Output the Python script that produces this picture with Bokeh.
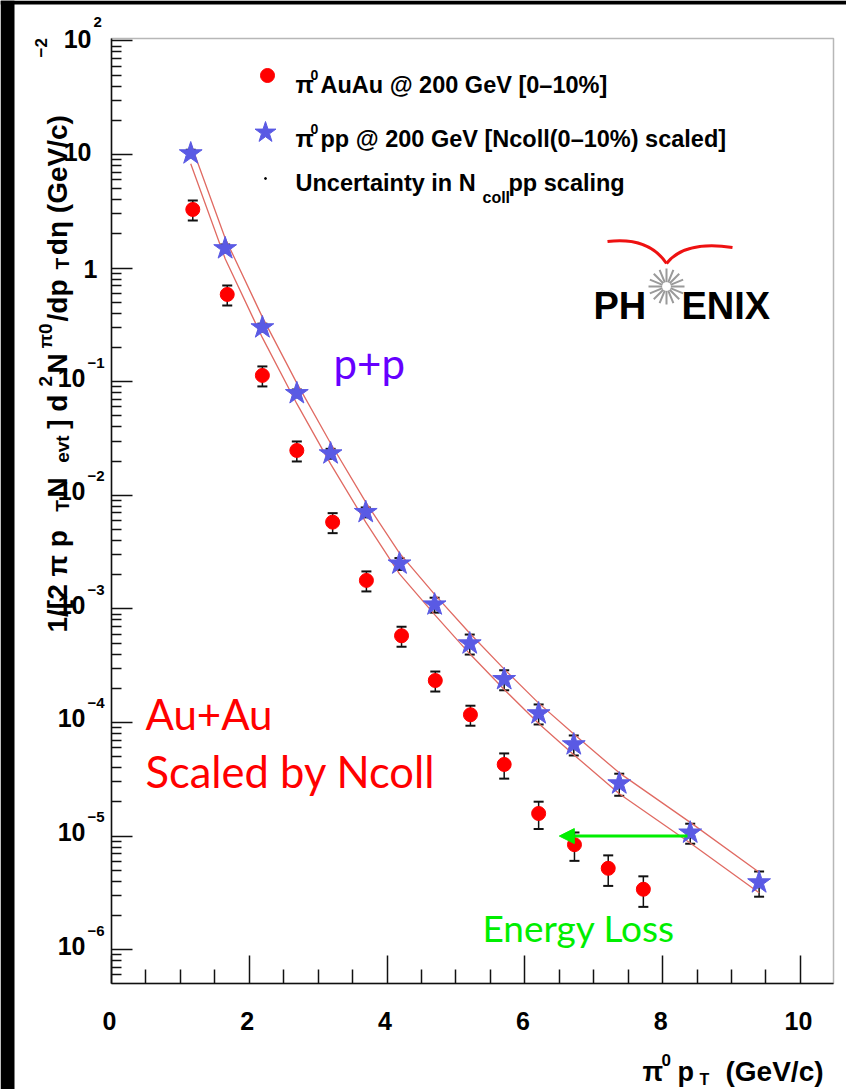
import math
from bokeh.plotting import figure
from bokeh.models import (ColumnDataSource, Range1d, FixedTicker, Whisker, TeeHead,
                          Label, Arrow, NormalHead, CustomJSTickFormatter, BoxAnnotation)
from bokeh.embed import file_html
from bokeh.resources import INLINE

# ---------------- data ----------------
auau_pt = [1.18, 1.68, 2.19, 2.69, 3.21, 3.70, 4.21, 4.70, 5.21, 5.70, 6.20, 6.72, 7.21, 7.72]
auau_yield = [3.28, 0.586, 0.1135, 0.0248, 5.8e-3, 1.78e-3, 5.8e-4, 2.34e-4, 1.17e-4,
              4.27e-5, 1.58e-5, 8.4e-6, 5.2e-6, 3.4e-6]
auau_relerr = [0.2, 0.2, 0.2, 0.2, 0.2, 0.2, 0.2, 0.2, 0.2, 0.25, 0.27, 0.28, 0.3, 0.3]

pp_pt = [1.15, 1.65, 2.19, 2.69, 3.18, 3.69, 4.18, 4.69, 5.20, 5.70, 6.20, 6.71, 7.37, 8.40, 9.40]
pp_yield = [10.2, 1.49, 0.30, 0.079, 0.0233, 0.0071, 0.0025, 0.00109, 4.95e-4, 2.4e-4,
            1.2e-4, 6.4e-5, 2.9e-5, 1.07e-5, 3.9e-6]
pp_relerr = [0.08, 0.08, 0.08, 0.08, 0.1, 0.1, 0.12, 0.15, 0.2, 0.2, 0.2, 0.2, 0.22, 0.2, 0.25]

# Ncoll scaling uncertainty band (upper / lower curves at the p+p pT points)
band_hi = [12.5, 1.83, 0.37, 0.097, 0.0287, 0.0087, 0.0031, 0.00134, 6.1e-4, 2.95e-4,
           1.48e-4, 7.9e-5, 3.6e-5, 1.32e-5, 4.8e-6]
band_lo = [8.3, 1.21, 0.244, 0.064, 0.0189, 0.0058, 0.00203, 8.9e-4, 4.02e-4, 1.95e-4,
           9.8e-5, 5.2e-5, 2.36e-5, 8.7e-6, 3.17e-6]

# energy-loss arrow (pT from -> to, at yield level)
eloss_from_pt, eloss_to_pt, eloss_level = 8.36, 6.50, 1.0e-5

x_major = [0, 2, 4, 6, 8, 10]
x_minor = [0.5, 1, 1.5, 2.5, 3, 3.5, 4.5, 5, 5.5, 6.5, 7, 7.5, 8.5, 9, 9.5]
y_decades = [1e2, 1e1, 1e0, 1e-1, 1e-2, 1e-3, 1e-4, 1e-5, 1e-6]
y_tick_base = ["10", "10", "1", "10", "10", "10", "10", "10", "10"]
y_tick_exp = ["2", "", "", "\u22121", "\u22122", "\u22123", "\u22124", "\u22125", "\u22126"]

# ---------------- frame calibration (reference page pixels) ----------------
PAGE_W, PAGE_H = 846, 1089
FRAME_L, FRAME_R, FRAME_T, FRAME_B = 111, 833, 38, 983
X_MIN, X_MAX = 0.0, 10.48
LOG_MIN, LOG_MAX = -6.298, 2.021
Y_LO, Y_HI = 10 ** LOG_MIN, 10 ** LOG_MAX


def X(px):
    return X_MIN + (px - FRAME_L) / (FRAME_R - FRAME_L) * (X_MAX - X_MIN)


def Y(py):
    return 10 ** (LOG_MAX - (py - FRAME_T) / (FRAME_B - FRAME_T) * (LOG_MAX - LOG_MIN))


def PY(v):
    return FRAME_T + (LOG_MAX - math.log10(v)) / (LOG_MAX - LOG_MIN) * (FRAME_B - FRAME_T)


def PX(v):
    return FRAME_L + (v - X_MIN) / (X_MAX - X_MIN) * (FRAME_R - FRAME_L)


FONT = "Liberation Sans"
INK = "#111111"

# the plotting area spans the whole canvas; the ROOT frame is drawn with the
# library's own axes placed at fixed locations
p = figure(width=PAGE_W, height=PAGE_H,
           x_range=Range1d(X(0), X(PAGE_W)),
           y_range=Range1d(Y(PAGE_H), Y(0)),
           y_axis_type="log", output_backend="svg", toolbar_location=None,
           min_border_left=0, min_border_right=0, min_border_top=0, min_border_bottom=0)
p.background_fill_color = "white"
p.border_fill_color = "white"
p.outline_line_color = None
p.xgrid.visible = False
p.ygrid.visible = False

blank = CustomJSTickFormatter(code="return ''")

# x axis
xa = p.xaxis[0]
xa.ticker = FixedTicker(ticks=x_major, minor_ticks=x_minor)
xa.fixed_location = Y_LO
xa.bounds = (X_MIN, X_MAX)
xa.major_tick_in = 28
xa.major_tick_out = 0
xa.minor_tick_in = 14
xa.minor_tick_out = 0
xa.axis_line_width = 1.5
xa.axis_line_color = INK
xa.major_tick_line_width = 1.5
xa.minor_tick_line_width = 1.5
xa.major_tick_line_color = INK
xa.minor_tick_line_color = INK
xa.formatter = blank
xa.major_label_text_font_size = "1px"
xa.major_label_standoff = 0

# y axis
ya = p.yaxis[0]
y_minor = [k * 10.0 ** d for d in range(-7, 3) for k in range(2, 10)
           if Y_LO <= k * 10.0 ** d <= Y_HI]
ya.ticker = FixedTicker(ticks=y_decades, minor_ticks=y_minor)
ya.fixed_location = X_MIN
ya.bounds = (Y_LO, Y_HI)
ya.major_tick_in = 21
ya.major_tick_out = 0
ya.minor_tick_in = 10
ya.minor_tick_out = 0
ya.axis_line_width = 1.5
ya.axis_line_color = INK
ya.major_tick_line_width = 1.5
ya.minor_tick_line_width = 1.5
ya.major_tick_line_color = INK
ya.minor_tick_line_color = INK
ya.formatter = blank
ya.major_label_text_font_size = "1px"
ya.major_label_standoff = 0

# frame box and the dark slide edges (left and top)
p.add_layout(BoxAnnotation(left=X_MIN, right=X_MAX, bottom=Y_LO, top=Y_HI,
                           fill_alpha=0, line_color=INK, line_width=1.5))
p.add_layout(BoxAnnotation(left=X(0), right=X(14), fill_color="black", fill_alpha=1,
                           line_alpha=0))
p.add_layout(BoxAnnotation(bottom=Y(4), top=Y(0), fill_color="black", fill_alpha=1,
                           line_alpha=0))


def lab(px, py, text, size, font=FONT, style="bold", color="black", align="left",
        baseline="alphabetic", angle=0.0):
    p.add_layout(Label(x=X(px), y=Y(py), text=text, text_font=font, text_font_style=style,
                       text_font_size=f"{size}px", text_color=color, text_align=align,
                       text_baseline=baseline, angle=angle))


# tick labels
for v in x_major:
    lab(PX(v) - 2, 1020, str(v), 25, align="center", baseline="middle")

for v, base, ex in zip(y_decades, y_tick_base, y_tick_exp):
    ty = PY(v)
    if ex.startswith("\u2212"):
        bx, dy = 85, -4
    elif base == "1":
        bx, dy = 97, 1
    else:
        bx, dy = 91, -2
    lab(bx, ty + dy, base, 25, align="right", baseline="middle")
    if ex:
        lab(bx + 2, ty - 19, ex, 15, align="left", baseline="middle")

# ---------------- Ncoll uncertainty band ----------------
p.line(pp_pt, band_hi, line_color="#e06a62", line_width=1.3)
p.line(pp_pt, band_lo, line_color="#e06a62", line_width=1.3)

# ---------------- error bars ----------------
aa_src = ColumnDataSource(dict(
    x=auau_pt, y=auau_yield,
    lo=[y * (1 - e) for y, e in zip(auau_yield, auau_relerr)],
    hi=[y * (1 + e) for y, e in zip(auau_yield, auau_relerr)]))
pp_src = ColumnDataSource(dict(
    x=pp_pt, y=pp_yield,
    lo=[y * (1 - e) for y, e in zip(pp_yield, pp_relerr)],
    hi=[y * (1 + e) for y, e in zip(pp_yield, pp_relerr)]))
for src in (aa_src, pp_src):
    p.add_layout(Whisker(source=src, base="x", upper="hi", lower="lo", dimension="height",
                         line_color=INK, line_width=1.5, level="underlay",
                         upper_head=TeeHead(size=10, line_color=INK, line_width=2),
                         lower_head=TeeHead(size=10, line_color=INK, line_width=2)))

# ---------------- markers ----------------
p.scatter("x", "y", source=aa_src, marker="circle", size=14,
          fill_color="#ff0000", line_color="#ff0000")
p.scatter("x", "y", source=pp_src, marker="star", size=24,
          fill_color="#5a5ae4", line_color="#5a5ae4")

# ---------------- energy loss arrow ----------------
p.add_layout(Arrow(end=NormalHead(size=15, fill_color="#00ee00", line_color="#00ee00"),
                   x_start=eloss_from_pt, y_start=eloss_level,
                   x_end=eloss_to_pt, y_end=eloss_level,
                   line_color="#00ee00", line_width=3))

# ---------------- legend (drawn by hand, ROOT style) ----------------
p.scatter([X(267)], [Y(75)], marker="circle", size=14, fill_color="#ff0000", line_color="#ff0000")
p.scatter([X(265)], [Y(132)], marker="star", size=22, fill_color="#5a5ae4", line_color="#5a5ae4")
p.scatter([X(265)], [Y(178)], marker="circle", size=2, fill_color="black", line_color="black")

lab(295, 84, "\u03c0", 24)
lab(310, 74, "0", 14)
lab(320, 84, "AuAu @ 200 GeV [0\u201310%]", 23.5)
lab(295, 138, "\u03c0", 24)
lab(310, 128, "0", 14)
lab(320, 138, "pp @ 200 GeV [Ncoll(0\u201310%) scaled]", 23.5)
lab(295, 182, "Uncertainty in N", 23.5)
lab(482, 197, "coll", 16)
lab(508, 182, "pp scaling", 23.5)

# ---------------- slide annotations ----------------
lab(333, 362, "p+p", 42, font="Lato", style="normal", color="#6600ff")
lab(145, 713, "Au+Au", 42, font="Lato", style="normal", color="#ff0000")
lab(145, 770, "Scaled by Ncoll", 43.5, font="Lato", style="normal", color="#ff0000")
lab(482, 927, "Energy Loss", 37, font="Lato", style="normal", color="#00ee00")

# ---------------- PHENIX logo ----------------
lab(593, 305, "PH", 38)
lab(681, 305, "ENIX", 38)
p.scatter([X(666)], [Y(286)], marker="asterisk", size=36, line_color="#9a9a9a", line_width=2)
p.scatter([X(666)], [Y(286)], marker="asterisk", size=36, angle=math.pi / 8,
          line_color="#9a9a9a", line_width=2)
p.scatter([X(666)], [Y(286)], marker="circle", size=8, fill_color="white", line_color="white")
p.quadratic(x0=[X(607), X(666)], y0=[Y(241), Y(263)],
            x1=[X(666), X(732)], y1=[Y(263), Y(247)],
            cx=[X(648), X(684)], cy=[Y(236), Y(240)],
            line_color="#ee1111", line_width=3)

# ---------------- axis titles ----------------
Wd = {'1': .556, '/': .278, '[': .333, '2': .556, ' ': .278, '\u03c0': .6, 'p': .611,
      'T': .611, 'N': .722, 'e': .556, 'v': .556, 't': .333, ']': .333, 'd': .611,
      '\u03b7': .611, '(': .333, 'G': .778, 'V': .667, 'c': .556, ')': .333, '0': .556}


def tw(s):
    return sum(Wd.get(c, .6) for c in s)


ytitle = [("1/[2 \u03c0 p", "n"), ("T", "b"), (" N", "n"), ("evt", "b"), ("] d", "n"),
          ("2", "p"), ("N", "n"), ("\u03c00", "p"), ("/dp", "n"), ("T", "b"),
          (" d\u03b7 (GeV/c)", "n")]
tsize = {"n": 28, "b": 19, "p": 19}
tx = {"n": 57, "b": 62, "p": 45}
total = sum(tw(t) * tsize[k] for t, k in ytitle)
stretch = (632 - 72) / total
ycur = 632.0
for t, k in ytitle:
    lab(tx[k], ycur, t, tsize[k], angle=math.pi / 2)
    ycur -= tw(t) * tsize[k] * stretch
lab(40, 57, "\u22122", 17, angle=math.pi / 2)

lab(642, 1071, "\u03c0", 27)
lab(661, 1059, "0", 17)
lab(677, 1071, "p", 27)
lab(699, 1079, "T", 16)
lab(725, 1071, "(GeV/c)", 28)

open("out.html", "w").write(file_html(p, INLINE))
